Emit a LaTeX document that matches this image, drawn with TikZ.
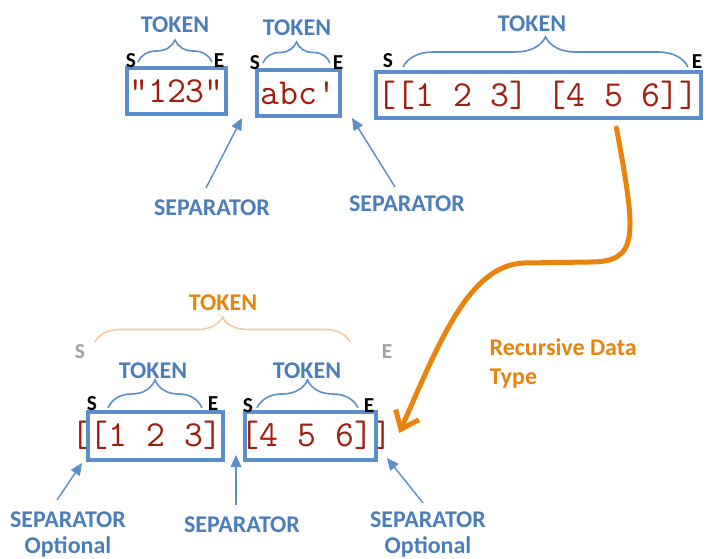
\documentclass[tikz,border=0pt]{standalone}
\usepackage{fontspec}
\usetikzlibrary{arrows.meta, positioning, calc, decorations.pathreplacing}
\newfontfamily\carlito{Carlito}
\definecolor{tk}{HTML}{4A7EBA}
\definecolor{bx}{HTML}{5A8FCC}
\definecolor{cd}{HTML}{A01E0E}
\definecolor{rc}{HTML}{E8830E}
\definecolor{rcl}{HTML}{F9C79C}
\definecolor{fade}{HTML}{A0A0A0}

\begin{document}
\begin{tikzpicture}[x=0.75pt, y=-0.75pt, >={Triangle[length=9pt, width=8pt]},
    lbl/.style={font=\carlito\bfseries\fontsize{18}{19.5}\selectfont, text=tk, inner sep=1pt},
    se/.style={font=\carlito\bfseries\fontsize{16}{19}\selectfont, inner sep=0pt},
    cd/.style={font=\ttfamily\fontsize{27.5}{30}\selectfont, text=cd, inner sep=0pt},
    tok/.style={draw=bx, line width=3pt, inner xsep=1.5pt, minimum height=34.5pt},
    br/.style={decorate, decoration={brace, amplitude=#1}, draw=bx, line width=1.2pt},
    sep/.style={->, bx, line width=1.1pt}]

  \useasboundingbox (0,0) rectangle (706,559);

  % top row of tokens
  \node[cd, tok] (T1) at (176.5,91) {"123"};
  \node[cd, tok, minimum width=62pt] (T2) at (298.5,93.5) {abc'};
  \node[cd, tok] (T3) at (538,95) {[[1 2 3] [4 5 6]]};

  \draw[br=16.5pt] (138,62) -- (212,62);
  \draw[br=15.75pt] (263,63) -- (330,63);
  \draw[br=22.5pt] (403,67) -- (688,67);
  \node[lbl] (K1) at (175,25) {TOKEN};
  \node[lbl] (K2) at (297,28) {TOKEN};
  \node[lbl] (K3) at (532,24) {TOKEN};
  \node[se] (S1) at (131,61) {S};
  \node[se] (E1) at (219,61) {E};
  \node[se] (S2) at (255,63) {S};
  \node[se] (E2) at (338,63) {E};
  \node[se] (S3) at (388,61) {S};
  \node[se] (E3) at (697,62) {E};

  % separators between the tokens
  \coordinate (pA) at (242,118);
  \coordinate (pB) at (352,118);
  \node[lbl, anchor=north] (SA) at (212,198) {SEPARATOR};
  \node[lbl, anchor=north] (SB) at (407,194) {SEPARATOR};
  \draw[sep] ($(SA.north)+(-6,-10)$) -- (pA);
  \draw[sep] ($(SB.north)+(-12,-7)$) -- (pB);

  % nested list
  \node[cd] (N) at (231.5,435) {[[1 2 3] [4 5 6]]};
  \node[tok, minimum width=101pt, minimum height=36pt] (N1) at (155.5,436) {};
  \node[tok, minimum width=98pt, minimum height=36pt] (N2) at (310.5,436) {};

  \draw[br=18.75pt, draw=rcl] (95,342) -- (350,342);
  \draw[br=21pt] (108,408) -- (202,408);
  \draw[br=21pt] (257,408) -- (358,408);
  \node[lbl, text=rc] (K4) at (223,303) {TOKEN};
  \node[lbl] (K5) at (153,371) {TOKEN};
  \node[lbl] (K6) at (307,371) {TOKEN};
  \node[se, text=fade] (S4) at (80,352) {S};
  \node[se, text=fade] (E4) at (387,352) {E};
  \node[se] (S5) at (92,404) {S};
  \node[se] (E5) at (213,404) {E};
  \node[se] (S6) at (248,406) {S};
  \node[se] (E6) at (369,406) {E};

  \coordinate (pL) at (82,463);
  \coordinate (pM) at (236,455);
  \coordinate (pR) at (387,458);
  \node[lbl, align=center, anchor=north] (SL) at (68,510) {SEPARATOR\\Optional};
  \node[lbl, anchor=north] (SM) at (242,515) {SEPARATOR};
  \node[lbl, align=center, anchor=north] (SR) at (428,510) {SEPARATOR\\Optional};
  \draw[sep] ($(SL.north)+(-11,-10)$) -- (pL);
  \draw[sep] ($(SM.north)+(-6,-10)$) -- (pM);
  \draw[sep] ($(SR.north)+(-5,-7)$) -- (pR);

  % recursion arrow
  \coordinate (rtip) at ($(N.east)+(7,-2)$);
  \draw[rc, line width=3.75pt, line cap=round, -{Straight Barb[length=12pt, width=19pt]}]
    ($(T3.south east)+(-86,8)$) .. controls (636,235) and (640,262) .. (590,262)
    -- (525,263) .. controls (470,264) and (440,340) .. (rtip);
  \node[lbl, text=rc, align=left, anchor=north west, font=\carlito\bfseries\fontsize{18}{22}\selectfont]
    (R) at (488,337) {Recursive Data\\Type};
\end{tikzpicture}
\end{document}
